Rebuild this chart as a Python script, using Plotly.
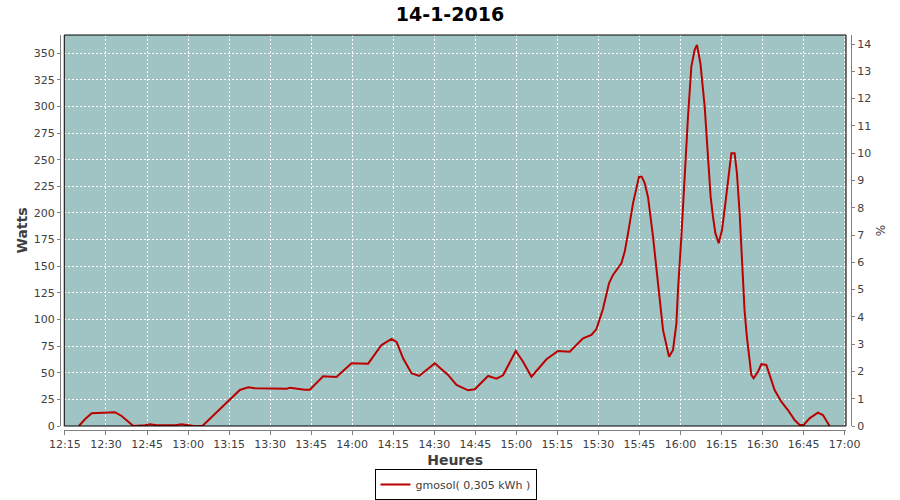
import plotly.graph_objects as go

DAY = "2016-01-14 "

times = [
    "12:20:07", "12:22:18", "12:24:46", "12:30:00", "12:33:16", "12:35:43", "12:40:00",
    "12:44:14", "12:46:06", "12:48:30", "12:55:12", "12:57:38", "13:01:18", "13:02:08",
    "13:05:14", "13:15:17", "13:18:56", "13:22:00", "13:24:25", "13:36:07", "13:37:13",
    "13:42:41", "13:44:31", "13:49:22", "13:53:02", "13:54:16", "13:59:45", "14:05:49",
    "14:10:43", "14:14:22", "14:16:12", "14:18:36", "14:21:40", "14:24:26", "14:30:11",
    "14:35:02", "14:38:07", "14:42:22", "14:44:48", "14:49:40", "14:52:43", "14:55:08",
    "14:59:47", "15:02:27", "15:05:31", "15:11:00", "15:15:14", "15:19:30", "15:24:22",
    "15:27:26", "15:29:16", "15:31:41", "15:33:52", "15:35:20", "15:38:23", "15:39:37",
    "15:40:50", "15:42:38", "15:44:50", "15:45:50", "15:46:55", "15:48:07", "15:49:57",
    "15:51:11", "15:52:24", "15:53:37", "15:55:49", "15:57:16", "15:58:30", "15:59:05",
    "16:00:19", "16:01:31", "16:02:44", "16:03:58", "16:05:10", "16:06:01", "16:07:16",
    "16:08:50", "16:10:02", "16:11:01", "16:11:52", "16:12:45", "16:13:57", "16:15:10",
    "16:16:24", "16:17:36", "16:18:35", "16:19:47", "16:20:38", "16:21:37", "16:22:14",
    "16:22:50", "16:23:24", "16:24:15", "16:25:01", "16:25:53", "16:26:44", "16:28:18",
    "16:29:33", "16:31:22", "16:32:34", "16:34:24", "16:36:51", "16:39:16", "16:41:43",
    "16:43:33", "16:45:00", "16:47:11", "16:50:13", "16:52:03", "16:54:30",
]

watts = [
    0, 6.3, 12, 12.3, 13, 9.4, 0,
    0.8, 1.6, 0.8, 0.8, 1.6, 0.5, 0,
    0, 24.4, 33.8, 36.3, 35.5, 35, 36,
    34, 34, 46.6, 46.6, 46, 58.8, 58.5,
    76, 81.7, 79, 63.5, 49.5, 47, 58.8,
    48, 38.5, 33.5, 34.5, 47, 44.4, 47.6,
    70.4, 60.4, 46.3, 62.6, 70.4, 69.8, 82.3,
    85.5, 91, 110, 134, 141.8, 152.8, 163.7,
    181, 209, 234, 234, 228, 215, 177.7,
    146.5, 115, 90, 65, 71.4, 96.4, 127.7,
    177.7, 237, 290, 337.4, 353, 357.7, 340.5,
    300, 250, 215, 196.5, 181, 171.5, 184,
    209, 234, 256, 256, 237, 199.7, 168.4,
    137, 109, 84, 65, 48, 44.8, 51,
    58, 57.3, 48, 33.8, 22.8, 15, 5.6,
    1, 1, 7.2, 12.5, 10.3, 0,
]

series_name = "gmosol( 0,305 kWh )"
title_text = "14-1-2016"
x_title = "Heures"
y_title = "Watts"
y2_title = "%"

x_dt = [DAY + t for t in times]

FONT = "DejaVu Sans"
TXT = "#404040"
AX = "#808080"

fig = go.Figure()
fig.add_trace(go.Scatter(
    x=x_dt, y=watts, mode="lines", name=series_name,
    line=dict(color="#BB0000", width=2),
))
fig.add_trace(go.Scatter(
    x=[x_dt[0]], y=[None], yaxis="y2", mode="lines",
    showlegend=False, hoverinfo="skip",
))

grid = dict(showgrid=True, gridcolor="white", gridwidth=1, griddash="2px,2px")

fig.update_layout(
    width=900, height=500,
    paper_bgcolor="white", plot_bgcolor="#A0C4C4",
    margin=dict(l=60, r=49, t=35, b=70, autoexpand=False),
    font=dict(family=FONT, size=11, color=TXT),
    title=dict(text="<b>" + title_text + "</b>", x=0.5, xanchor="center",
               y=1 - 14 / 500, yanchor="middle",
               font=dict(family=FONT, size=19, color="black")),
    xaxis=dict(
        type="date", domain=[0.0054, 0.9937], anchor="free", position=0,
        automargin=False,
        range=[DAY + "12:14:45", DAY + "17:00:30"],
        tick0=DAY + "12:15:00", dtick=15 * 60 * 1000, tickformat="%H:%M",
        ticks="outside", ticklen=4, tickcolor=AX,
        showline=True, linecolor=AX, linewidth=1,
        zeroline=False,
        title=dict(text="<b>" + x_title + "</b>", standoff=4,
                   font=dict(family=FONT, size=14, color=TXT)),
        **grid,
    ),
    yaxis=dict(
        domain=[0.0101, 1], anchor="free", position=0,
        automargin=False,
        range=[0, 367], dtick=25, tick0=0,
        ticks="outside", ticklen=3, tickcolor=AX,
        showline=True, linecolor=AX, linewidth=1,
        zeroline=False,
        title=dict(text="<b>" + y_title + "</b>", standoff=1,
                   font=dict(family=FONT, size=14, color=TXT)),
        **grid,
    ),
    yaxis2=dict(
        overlaying="y", side="right", anchor="free", position=1,
        automargin=False,
        range=[0, 14.33], dtick=1, tick0=0,
        ticks="outside", ticklen=3, tickcolor=AX,
        showline=True, linecolor=AX, linewidth=1,
        showgrid=False, zeroline=False,
        title=dict(text=y2_title, standoff=6,
                   font=dict(family=FONT, size=12, color=TXT)),
    ),
    legend=dict(
        orientation="h", x=0.5, xanchor="center",
        yref="container", y=0.0, yanchor="bottom",
        bgcolor="white", bordercolor="black", borderwidth=1,
        font=dict(family=FONT, size=11, color=TXT), itemwidth=30,
    ),
    showlegend=True,
    shapes=[dict(type="rect", xref="x domain", yref="y domain",
                 x0=0, x1=1, y0=0, y1=1,
                 line=dict(color="black", width=1), layer="above")],
)

fig.write_html(
    "out.html",
    config={"displayModeBar": False},
    post_script="document.body.style.margin='0';document.body.style.overflow='hidden';",
)
